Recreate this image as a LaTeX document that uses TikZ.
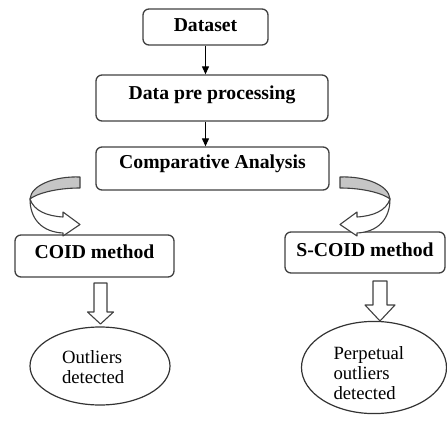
\documentclass[tikz,border=0pt]{standalone}
\usepackage{fontspec}
\setmainfont{Liberation Serif}
\usetikzlibrary{positioning,shapes.geometric,arrows.meta}
\newcommand{\boxfont}{\fontsize{19.7}{22}\selectfont\bfseries}
\newcommand{\ovalfont}{\fontsize{18.7}{20}\selectfont}
% curved 3d arrow, left one (mirror for the right one)
\newcommand{\bentarrow}{%
\draw[bendline,fill=gray!45] (80,177) .. controls (55,176) and (31,185) .. (30,199) .. controls (36,194) and (55,188) .. (80,188) -- cycle;
\draw[bendline,fill=white] (30,199) .. controls (30,219) and (42,232) .. (63,233) -- (63,236) -- (80,224.5) -- (63,212) -- (63,217) .. controls (47,216) and (34,211) .. (30,199) -- cycle;
}
% block arrow down: x, top, head base, tip, half shaft, half head
\newcommand{\hollowarrow}[6]{%
\draw[bendline,fill=white] (#1-#5,#2) -- (#1+#5,#2) -- (#1+#5,#3) -- (#1+#6,#3) -- (#1,#4) -- (#1-#6,#3) -- (#1-#5,#3) -- cycle;
}

\begin{document}
\begin{tikzpicture}[x=1pt,y=-1pt,
  flowbox/.style={draw=black!75,line width=1.3pt,rounded corners=6pt,inner sep=0pt,font=\boxfont,text height=13.5pt},
  oval/.style={ellipse,draw=black!80,line width=1.2pt,inner sep=0pt,font=\ovalfont,align=left},
  bendline/.style={draw=black!75,line width=1.1pt,line join=round}]
\useasboundingbox (0,0) rectangle (447,425);
%the boxes
\node [flowbox,minimum width=125pt,minimum height=36pt,text depth=3.5pt] (dataset) at (205.5,27) {Dataset};
\node [flowbox,minimum width=232pt,minimum height=46pt,text depth=9.5pt] (prep) at (212,98) {Data pre processing};
\node [flowbox,minimum width=233pt,minimum height=43pt,text depth=14.5pt] (comp) at (212.5,168.5) {Comparative Analysis};
\node [flowbox,minimum width=159pt,minimum height=42pt,text depth=9.5pt] (coid) at (94.5,256) {COID method};
\node [flowbox,minimum width=160pt,minimum height=41pt,text depth=6.5pt] (scoid) at (365,252.5) {S-COID method};
%the ovals
\node [oval,minimum width=140pt,minimum height=78pt,text width=76pt,text height=16pt] (outl) at (100,366) {Outliers\\detected};
\node [oval,minimum width=145pt,minimum height=88pt,text width=81pt,text height=25pt] (perp) at (374,367.5) {Perpetual\\outliers\\detected};
%drawings of lines
\draw[-{Triangle[length=8pt,width=7pt]},line width=1.1pt] (dataset.south) -- (dataset.south |- prep.north);
\draw[-{Triangle[length=8pt,width=7pt]},line width=1.1pt] (dataset.south |- prep.south) -- (dataset.south |- comp.north);
%curved arrows
\bentarrow
\begin{scope}[xshift=420pt,xscale=-1]
\bentarrow
\end{scope}
%block arrows
\hollowarrow{100.5}{283}{312}{324}{6.5}{13}
\hollowarrow{380}{281}{305}{321}{7}{15}
\end{tikzpicture}
\end{document}
